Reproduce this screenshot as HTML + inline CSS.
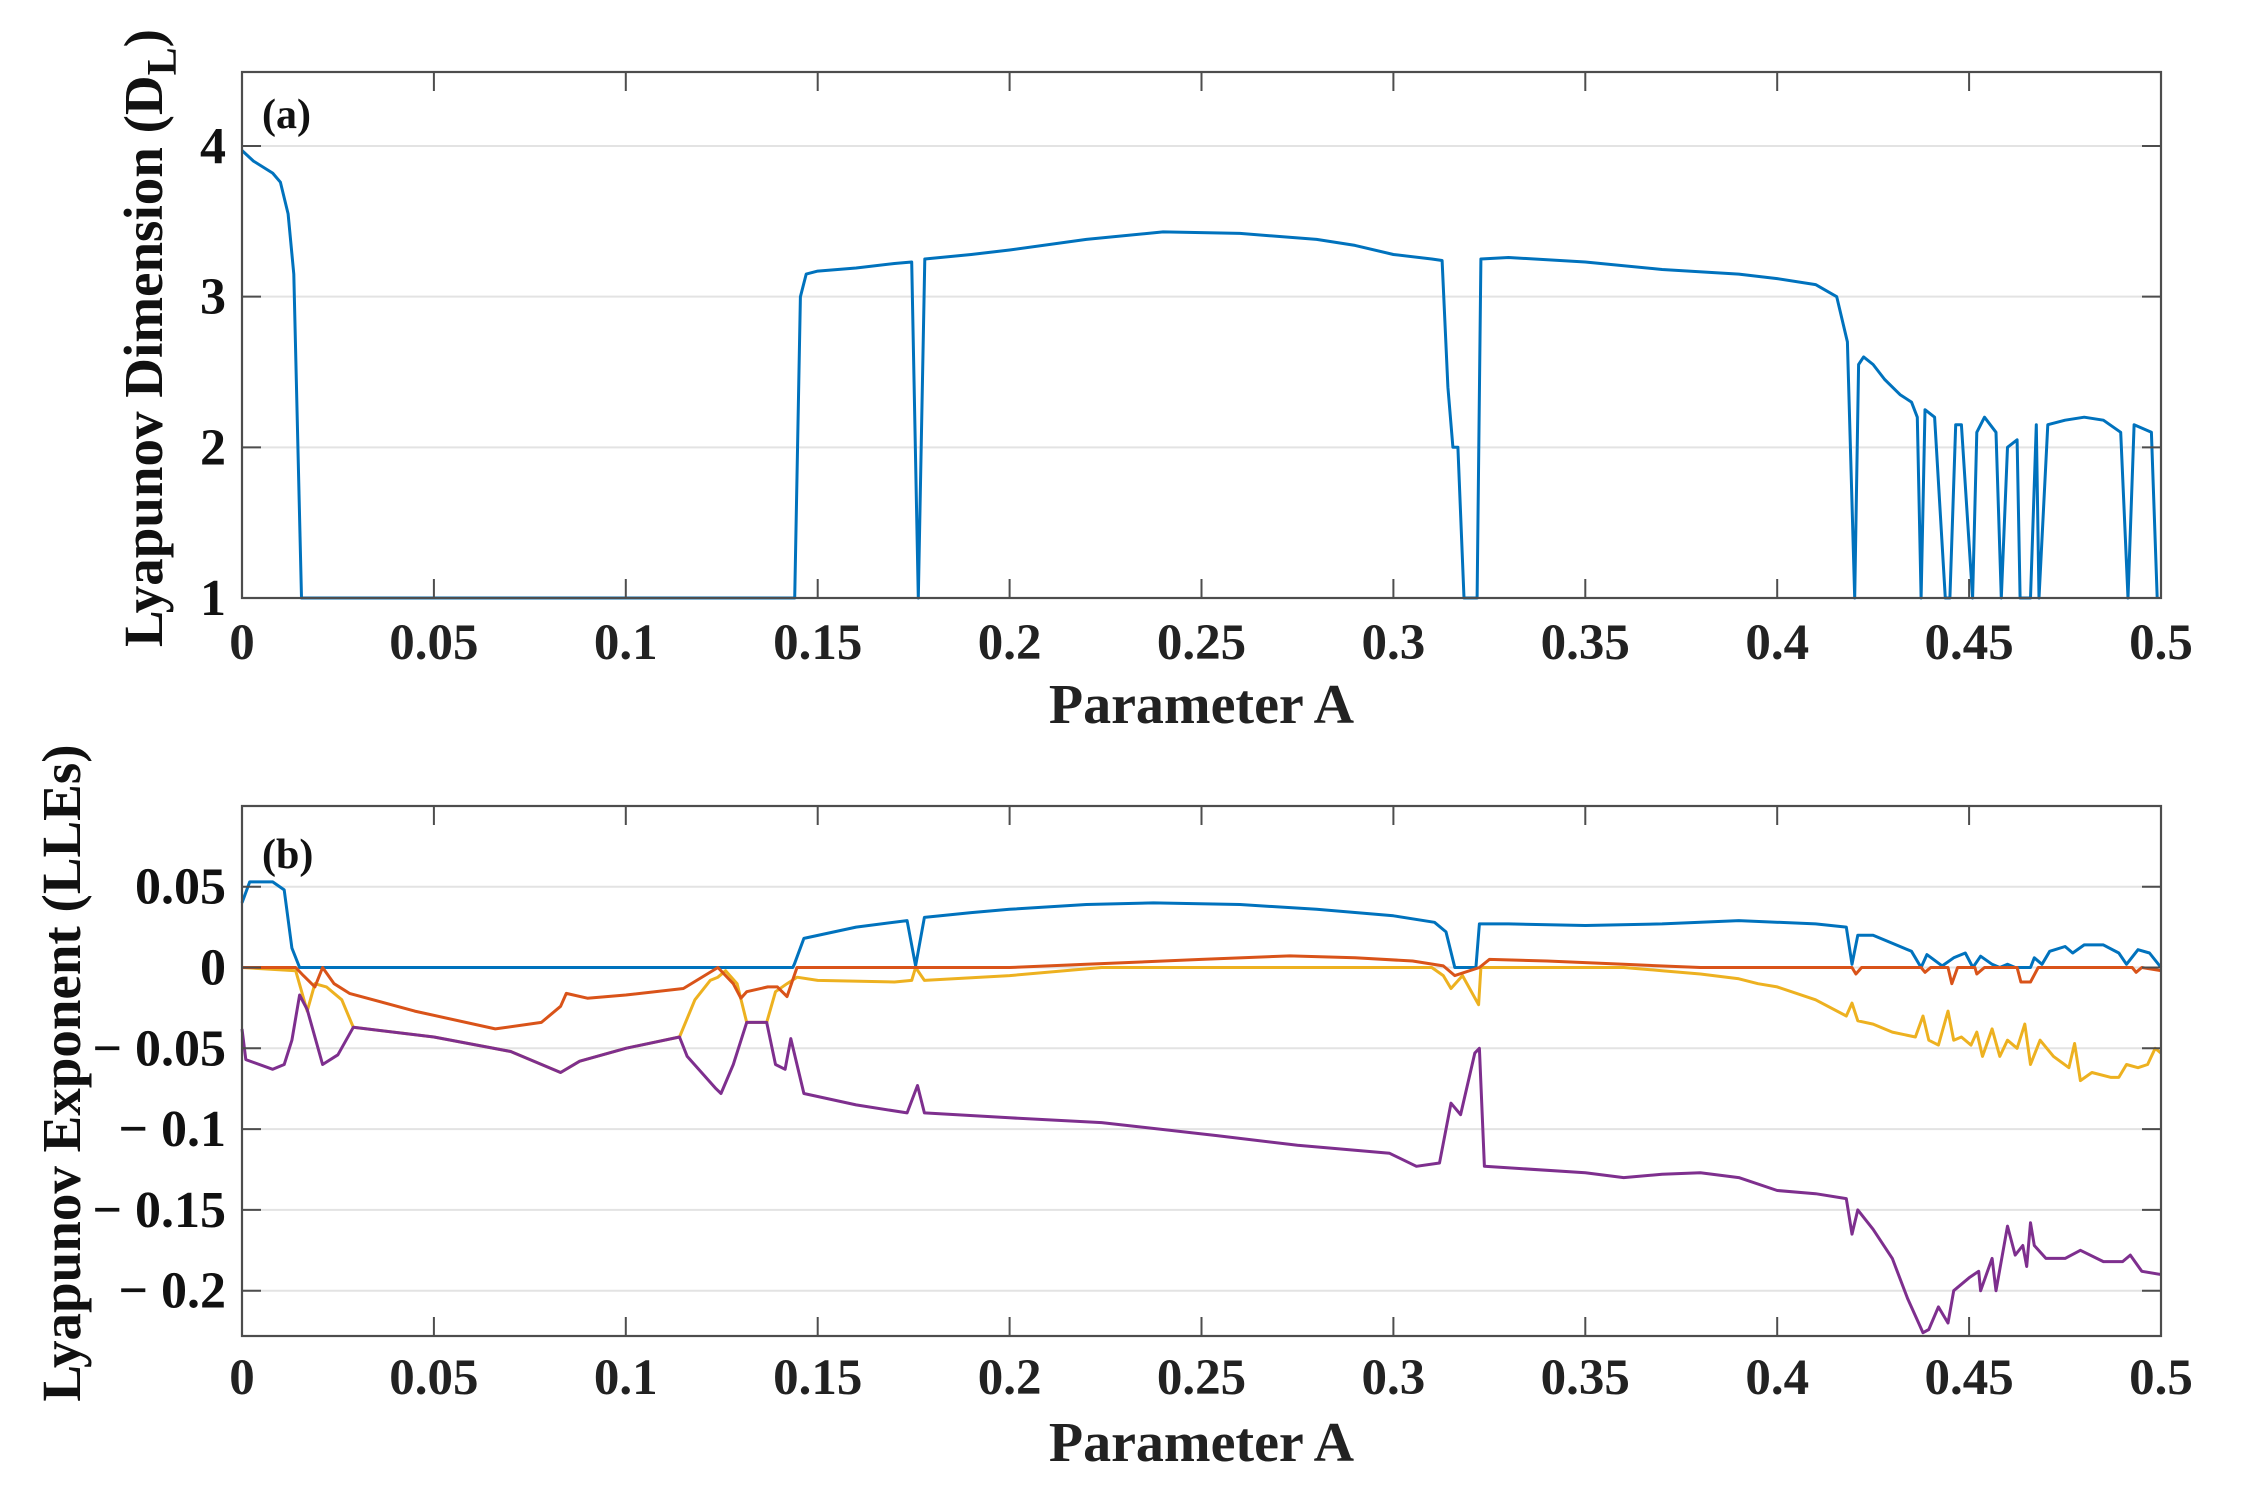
<!DOCTYPE html>
<html><head><meta charset="utf-8"><style>
html,body{margin:0;padding:0;background:#fff;}
svg{display:block;font-family:"Liberation Serif",serif;font-weight:bold;}
</style></head><body>
<svg id="chart" width="2253" height="1494" viewBox="0 0 2253 1494" xmlns="http://www.w3.org/2000/svg">
<g id="pa"></g>
<g id="pb"></g>
</svg>
<script>
// ---------- data ----------
const xTicks = [0,0.05,0.1,0.15,0.2,0.25,0.3,0.35,0.4,0.45,0.5];
const xTickLabels = ['0','0.05','0.1','0.15','0.2','0.25','0.3','0.35','0.4','0.45','0.5'];
const aTicks = [1,2,3,4];
const aTickLabels = ['1','2','3','4'];
const bTicks = [0.05,0,-0.05,-0.1,-0.15,-0.2];
const bTickLabels = ['0.05','0','\u2212 0.05','\u2212 0.1','\u2212 0.15','\u2212 0.2'];

const dlA = [0,0.003,0.008,0.01,0.012,0.0135,0.0155,0.144,0.1455,0.147,0.15,0.16,0.17,0.1745,0.1762,0.1779,0.19,0.2,0.22,0.24,0.26,0.28,0.29,0.3,0.31,0.3127,0.3142,0.3155,0.3168,0.3184,0.3218,0.3228,0.33,0.35,0.37,0.39,0.4,0.41,0.4155,0.4183,0.4202,0.4212,0.4225,0.425,0.428,0.432,0.435,0.4365,0.4375,0.4385,0.441,0.4438,0.445,0.4465,0.448,0.4509,0.452,0.454,0.457,0.4584,0.46,0.4625,0.4633,0.466,0.4675,0.4682,0.4705,0.475,0.48,0.485,0.4895,0.4914,0.493,0.4975,0.499];
const dlV = [3.97,3.9,3.82,3.76,3.55,3.15,1,1,3.0,3.15,3.17,3.19,3.22,3.23,1.0,3.25,3.28,3.31,3.38,3.43,3.42,3.38,3.34,3.28,3.25,3.24,2.4,2.0,2.0,1.0,1.0,3.25,3.26,3.23,3.18,3.15,3.12,3.08,3.0,2.7,1.0,2.55,2.6,2.55,2.45,2.35,2.3,2.2,1.0,2.25,2.2,1.0,1.0,2.15,2.15,1.0,2.1,2.2,2.1,1.0,2.0,2.05,1.0,1.0,2.15,1.0,2.15,2.18,2.2,2.18,2.1,1.0,2.15,2.1,1.0];

const le1A = [0,0.002,0.008,0.011,0.013,0.015,0.1435,0.1439,0.1464,0.16,0.1733,0.1755,0.1778,0.19,0.2,0.22,0.2375,0.26,0.28,0.3,0.3107,0.3137,0.316,0.3215,0.3224,0.33,0.35,0.37,0.39,0.41,0.418,0.4195,0.421,0.425,0.43,0.435,0.4375,0.439,0.443,0.446,0.449,0.451,0.453,0.456,0.458,0.46,0.462,0.466,0.467,0.469,0.471,0.475,0.477,0.48,0.485,0.489,0.491,0.494,0.497,0.5];
const le1V = [0.04,0.053,0.053,0.048,0.012,0,0,0.002,0.018,0.025,0.029,0.001,0.031,0.034,0.036,0.039,0.04,0.039,0.036,0.032,0.028,0.022,0,0,0.027,0.027,0.026,0.027,0.029,0.027,0.025,0.002,0.02,0.02,0.015,0.01,0.0,0.008,0.001,0.006,0.009,0.0,0.007,0.002,0,0.002,0,0,0.006,0.002,0.01,0.013,0.009,0.014,0.014,0.009,0.002,0.011,0.009,0.0];

const le2A = [0,0.014,0.016,0.019,0.021,0.024,0.028,0.045,0.066,0.078,0.083,0.0845,0.09,0.1,0.115,0.124,0.128,0.13,0.1315,0.137,0.1395,0.142,0.1446,0.2,0.22,0.25,0.273,0.29,0.305,0.313,0.316,0.3224,0.325,0.34,0.36,0.38,0.4195,0.4205,0.422,0.4375,0.4385,0.44,0.4445,0.4455,0.447,0.4515,0.452,0.454,0.4625,0.4635,0.466,0.468,0.4925,0.4935,0.495,0.5];
const le2V = [0,0,-0.005,-0.012,0,-0.01,-0.016,-0.027,-0.038,-0.034,-0.024,-0.016,-0.019,-0.017,-0.013,0,-0.01,-0.019,-0.015,-0.012,-0.012,-0.018,0,0,0.002,0.005,0.0072,0.006,0.004,0.001,-0.005,0.0,0.005,0.004,0.002,0,0,-0.004,0,0,-0.003,0,0,-0.01,0,0,-0.004,0,0,-0.009,-0.009,0,0,-0.003,0,-0.002];

const le3A = [0,0.014,0.017,0.019,0.022,0.026,0.029,0.05,0.07,0.083,0.088,0.1,0.114,0.118,0.122,0.124,0.126,0.129,0.1315,0.1367,0.139,0.142,0.1446,0.15,0.17,0.1745,0.1755,0.1778,0.2,0.224,0.31,0.313,0.315,0.318,0.3222,0.3228,0.36,0.37,0.38,0.39,0.395,0.4,0.41,0.418,0.4195,0.421,0.425,0.43,0.436,0.438,0.4395,0.442,0.4445,0.446,0.448,0.4505,0.452,0.4535,0.456,0.458,0.46,0.4625,0.4645,0.466,0.4685,0.472,0.476,0.4775,0.479,0.482,0.487,0.489,0.491,0.494,0.4965,0.4985,0.5];
const le3V = [0,-0.002,-0.027,-0.01,-0.012,-0.02,-0.037,-0.043,-0.052,-0.065,-0.058,-0.05,-0.043,-0.02,-0.008,-0.006,-0.002,-0.01,-0.034,-0.034,-0.015,-0.01,-0.006,-0.008,-0.009,-0.008,0,-0.008,-0.005,0,0,-0.005,-0.013,-0.005,-0.023,0,0,-0.002,-0.004,-0.007,-0.01,-0.012,-0.02,-0.03,-0.022,-0.033,-0.035,-0.04,-0.043,-0.03,-0.045,-0.048,-0.027,-0.045,-0.043,-0.048,-0.04,-0.055,-0.038,-0.055,-0.045,-0.05,-0.035,-0.06,-0.045,-0.055,-0.062,-0.047,-0.07,-0.065,-0.068,-0.068,-0.06,-0.062,-0.06,-0.05,-0.053];

const le4A = [0,0.001,0.008,0.011,0.013,0.015,0.017,0.021,0.025,0.029,0.05,0.07,0.083,0.088,0.1,0.114,0.116,0.1235,0.1248,0.128,0.1315,0.1367,0.139,0.1415,0.143,0.1464,0.16,0.1733,0.176,0.1778,0.2,0.224,0.254,0.275,0.299,0.306,0.312,0.315,0.3175,0.3212,0.3224,0.3237,0.35,0.36,0.37,0.38,0.39,0.4,0.41,0.418,0.4195,0.421,0.425,0.43,0.434,0.438,0.4395,0.442,0.4445,0.446,0.45,0.4525,0.453,0.456,0.457,0.46,0.462,0.464,0.465,0.466,0.467,0.47,0.475,0.479,0.485,0.49,0.492,0.495,0.5];
const le4V = [-0.038,-0.057,-0.063,-0.06,-0.045,-0.017,-0.026,-0.06,-0.054,-0.037,-0.043,-0.052,-0.065,-0.058,-0.05,-0.043,-0.055,-0.075,-0.078,-0.06,-0.034,-0.034,-0.06,-0.063,-0.044,-0.078,-0.085,-0.09,-0.073,-0.09,-0.093,-0.096,-0.104,-0.11,-0.115,-0.123,-0.121,-0.084,-0.091,-0.053,-0.05,-0.123,-0.127,-0.13,-0.128,-0.127,-0.13,-0.138,-0.14,-0.143,-0.165,-0.15,-0.162,-0.18,-0.205,-0.226,-0.224,-0.21,-0.22,-0.2,-0.192,-0.188,-0.2,-0.18,-0.2,-0.16,-0.178,-0.172,-0.185,-0.158,-0.172,-0.18,-0.18,-0.175,-0.182,-0.182,-0.178,-0.188,-0.19];

// ---------- drawing ----------
const NS='http://www.w3.org/2000/svg';
const L=242, R=2161;
function xS(v){return L+(v/0.5)*(R-L);}
const aTop=72, aBot=598;
function yA(v){return aBot-(v-1)*(aBot-146)/3;}
const bTop=806, bBot=1336;
function yB(v){return 967.5-v*(1291-887)/0.25;}
function mk(parent,tag,attrs,text){const e=document.createElementNS(NS,tag);for(const k in attrs)e.setAttribute(k,attrs[k]);if(text!==undefined)e.textContent=text;parent.appendChild(e);return e;}

function panel(g,yf,yt){
  yt.forEach(v=>{const gl=mk(g,'line',{x1:L,x2:R,y1:yf(v),y2:yf(v),stroke:'#e3e3e3','stroke-width':2});
    
    });
}
function frame(g,top,bot,yf,yt,ytl,xtY,xlY,ylabelX,ylabelY,ylabelText,sub,cap,capY){
  mk(g,'rect',{x:L,y:top,width:R-L,height:bot-top,fill:'none',stroke:'#4d4d4d','stroke-width':2.2,});
  xTicks.forEach((v,i)=>{
    const x=xS(v);
    mk(g,'line',{x1:x,x2:x,y1:bot,y2:bot-19,stroke:'#4d4d4d','stroke-width':2,});
    mk(g,'line',{x1:x,x2:x,y1:top,y2:top+19,stroke:'#4d4d4d','stroke-width':2,});
    mk(g,'text',{x:x,y:xtY,'text-anchor':'middle','font-size':51,fill:'#222',},xTickLabels[i]);
  });
  yt.forEach((v,i)=>{
    const y=yf(v);
    mk(g,'line',{x1:L,x2:L+19,y1:y,y2:y,stroke:'#4d4d4d','stroke-width':2,});
    mk(g,'line',{x1:R,x2:R-19,y1:y,y2:y,stroke:'#4d4d4d','stroke-width':2,});
    mk(g,'text',{x:L-16,y:y+17,'text-anchor':'end','font-size':52,fill:'#111',},ytl[i]);
  });
  mk(g,'text',{x:(L+R)/2,y:xlY,'text-anchor':'middle','font-size':56,fill:'#222',},'Parameter A');
  const t=mk(g,'text',{x:0,y:0,'text-anchor':'middle','font-size':55,fill:'#111',transform:`translate(${ylabelX},${ylabelY}) rotate(-90)`,},ylabelText);
  if(sub){mk(t,'tspan',{dy:14,'font-size':42},'L');mk(t,'tspan',{dy:-14},')');}
  mk(g,'text',{x:262,y:capY,'font-size':42,fill:'#111',},cap);
}
function series(g,xs,ys,yf,color,name){
  let d='';
  for(let i=0;i<xs.length;i++){d+=(i?'L':'M')+xS(xs[i]).toFixed(1)+' '+yf(ys[i]).toFixed(1);}
  const p=mk(g,'path',{d:d,fill:'none',stroke:color,'stroke-width':3,'stroke-linejoin':'round'});
  
  
}
const pa=document.getElementById('pa'), pb=document.getElementById('pb');
panel(pa,yA,aTicks);
panel(pb,yB,bTicks);
series(pa,dlA,dlV,yA,'#0072BD','series-lyapunov-dimension');
series(pb,le1A,le1V,yB,'#0072BD','series-le1');
series(pb,le3A,le3V,yB,'#EDB120','series-le3');
series(pb,le2A,le2V,yB,'#D95319','series-le2');
series(pb,le4A,le4V,yB,'#7E2F8E','series-le4');
frame(pa,aTop,aBot,yA,aTicks,aTickLabels,659,723,162,338,'Lyapunov Dimension (D',true,'(a)',128);
frame(pb,bTop,bBot,yB,bTicks,bTickLabels,1394,1461,80,1073,'Lyapunov Exponent (LLEs)',false,'(b)',868);
</script>
</body></html>
